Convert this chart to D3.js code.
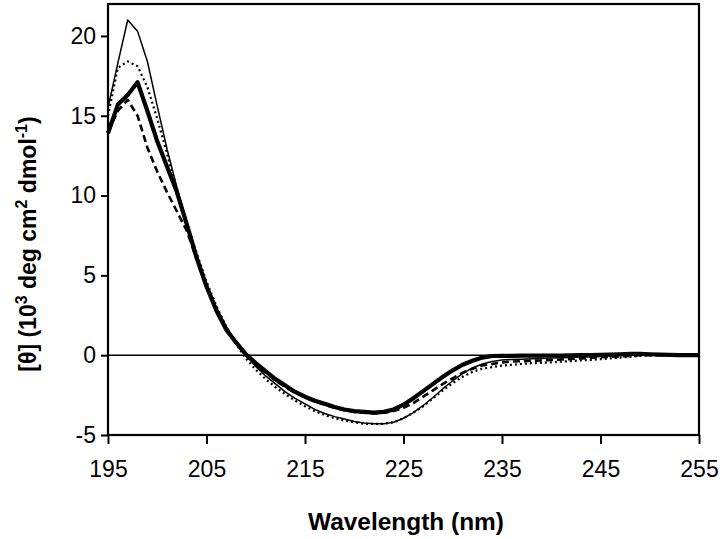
<!DOCTYPE html>
<html><head><meta charset="utf-8">
<script src="https://cdn.jsdelivr.net/npm/d3@7"></script>
<style>body{margin:0;background:#fff}</style>
</head><body>
<svg id="c" width="720" height="539"></svg>
<script>
const wavelengths = d3.range(195, 256, 1);
const xTicks = [195, 205, 215, 225, 235, 245, 255];
const yTicks = [-5, 0, 5, 10, 15, 20];
// thin solid
const seriesThin = [15.5,18.3,21.0,20.3,18.4,15.6,12.9,10.5,8.3,6.3,4.5,3.0,1.8,0.8,0.0,-0.7,-1.3,-1.8,-2.3,-2.7,-3.05,-3.4,-3.65,-3.85,-4.0,-4.15,-4.25,-4.3,-4.3,-4.2,-3.95,-3.6,-3.15,-2.65,-2.1,-1.6,-1.15,-0.8,-0.55,-0.4,-0.3,-0.27,-0.25,-0.23,-0.2,-0.18,-0.16,-0.14,-0.12,-0.1,-0.08,-0.05,-0.02,0.02,0.05,0.06,0.05,0.03,0.02,0.01,0.0];
// dotted
const seriesDotted = [15.0,18.0,18.4,18.1,16.8,14.8,12.6,10.4,8.3,6.4,4.6,3.1,1.8,0.7,-0.2,-0.9,-1.5,-2.0,-2.45,-2.85,-3.2,-3.5,-3.75,-3.95,-4.1,-4.2,-4.3,-4.3,-4.3,-4.2,-3.95,-3.6,-3.2,-2.7,-2.2,-1.75,-1.35,-1.05,-0.85,-0.75,-0.65,-0.6,-0.55,-0.5,-0.48,-0.45,-0.4,-0.37,-0.33,-0.3,-0.25,-0.2,-0.15,-0.1,-0.05,0.0,0.02,0.02,0.01,0.0,0.0];
// thick solid
const seriesThick = [13.9,15.7,16.3,17.1,15.3,13.4,11.8,10.2,8.2,6.1,4.3,2.8,1.6,0.8,0.05,-0.5,-1.0,-1.5,-1.9,-2.3,-2.6,-2.85,-3.05,-3.25,-3.4,-3.5,-3.55,-3.6,-3.55,-3.4,-3.1,-2.7,-2.25,-1.8,-1.35,-0.95,-0.6,-0.35,-0.15,-0.05,-0.04,-0.04,-0.03,-0.03,-0.03,-0.02,-0.02,-0.01,0.0,0.0,0.02,0.04,0.06,0.08,0.08,0.06,0.04,0.02,0.01,0.0,0.0];
// dashed
const seriesDashed = [14.0,15.3,16.0,15.0,13.0,11.5,10.2,9.0,7.8,6.0,4.3,2.9,1.7,0.8,0.0,-0.6,-1.1,-1.6,-2.0,-2.35,-2.65,-2.9,-3.1,-3.3,-3.45,-3.55,-3.6,-3.65,-3.6,-3.5,-3.3,-3.0,-2.6,-2.2,-1.8,-1.45,-1.1,-0.85,-0.65,-0.55,-0.45,-0.4,-0.38,-0.35,-0.33,-0.3,-0.27,-0.24,-0.2,-0.17,-0.13,-0.1,-0.07,-0.04,0.0,0.0,0.0,0.0,0.0,0.0,0.0];

const svg = d3.select("#c");
const L = 108, R = 699, T = 4, B = 435;
const x = d3.scaleLinear().domain([195, 255]).range([L, R]);
const y = d3.scaleLinear().domain([-5, 22]).range([B, T]);
const font = "'Liberation Sans', Arial, sans-serif";

// zero line
svg.append("line").attr("x1", L).attr("x2", R).attr("y1", y(0)).attr("y2", y(0))
  .attr("stroke", "#000").attr("stroke-width", 1.6);

const line = d3.line().x((d, i) => x(wavelengths[i])).y(d => y(d));
const defs = [
  {data: seriesDashed, w: 2.6, dash: "7,4"},
  {data: seriesDotted, w: 2.2, dash: "2,3"},
  {data: seriesThin, w: 1.5, dash: null},
  {data: seriesThick, w: 4.2, dash: null}
];
defs.forEach(s => {
  svg.append("path").datum(s.data).attr("d", line)
    .attr("fill", "none").attr("stroke", "#000").attr("stroke-width", s.w)
    .attr("stroke-linejoin", "round")
    .attr("stroke-dasharray", s.dash);
});

// frame
svg.append("rect").attr("x", L).attr("y", T).attr("width", R - L).attr("height", B - T)
  .attr("fill", "none").attr("stroke", "#000").attr("stroke-width", 2.2);

// axes
const fmt = d => String(d);
const xAxis = d3.axisBottom(x).tickValues(xTicks).tickFormat(fmt).tickSize(9).tickPadding(17);
const gx = svg.append("g").attr("transform", `translate(0,${B})`).call(xAxis);
const yAxis = d3.axisLeft(y).tickValues(yTicks).tickFormat(fmt).tickSize(7).tickPadding(5);
const gy = svg.append("g").attr("transform", `translate(${L},0)`).call(yAxis);
[gx, gy].forEach(g => {
  g.select(".domain").remove();
  g.selectAll("line").attr("stroke", "#000").attr("stroke-width", 2);
  g.selectAll("text").attr("font-family", font).attr("font-size", 23).attr("fill", "#000");
});

svg.append("text").attr("x", 406).attr("y", 530).attr("text-anchor", "middle")
  .attr("font-family", font).attr("font-size", 23).attr("font-weight", "bold")
  .attr("textLength", 196).attr("lengthAdjust", "spacingAndGlyphs")
  .text("Wavelength (nm)");

const yt = svg.append("text").attr("transform", `translate(36,244) rotate(-90)`)
  .attr("text-anchor", "middle").attr("font-family", font).attr("font-size", 23).attr("font-weight", "bold");
yt.append("tspan").text("[θ] (10");
yt.append("tspan").attr("dy", -9).attr("font-size", 16).text("3");
yt.append("tspan").attr("dy", 9).text(" deg cm");
yt.append("tspan").attr("dy", -9).attr("font-size", 16).text("2");
yt.append("tspan").attr("dy", 9).text(" dmol");
yt.append("tspan").attr("dy", -9).attr("font-size", 16).text("-1");
yt.append("tspan").attr("dy", 9).text(")");
</script>
</body></html>
